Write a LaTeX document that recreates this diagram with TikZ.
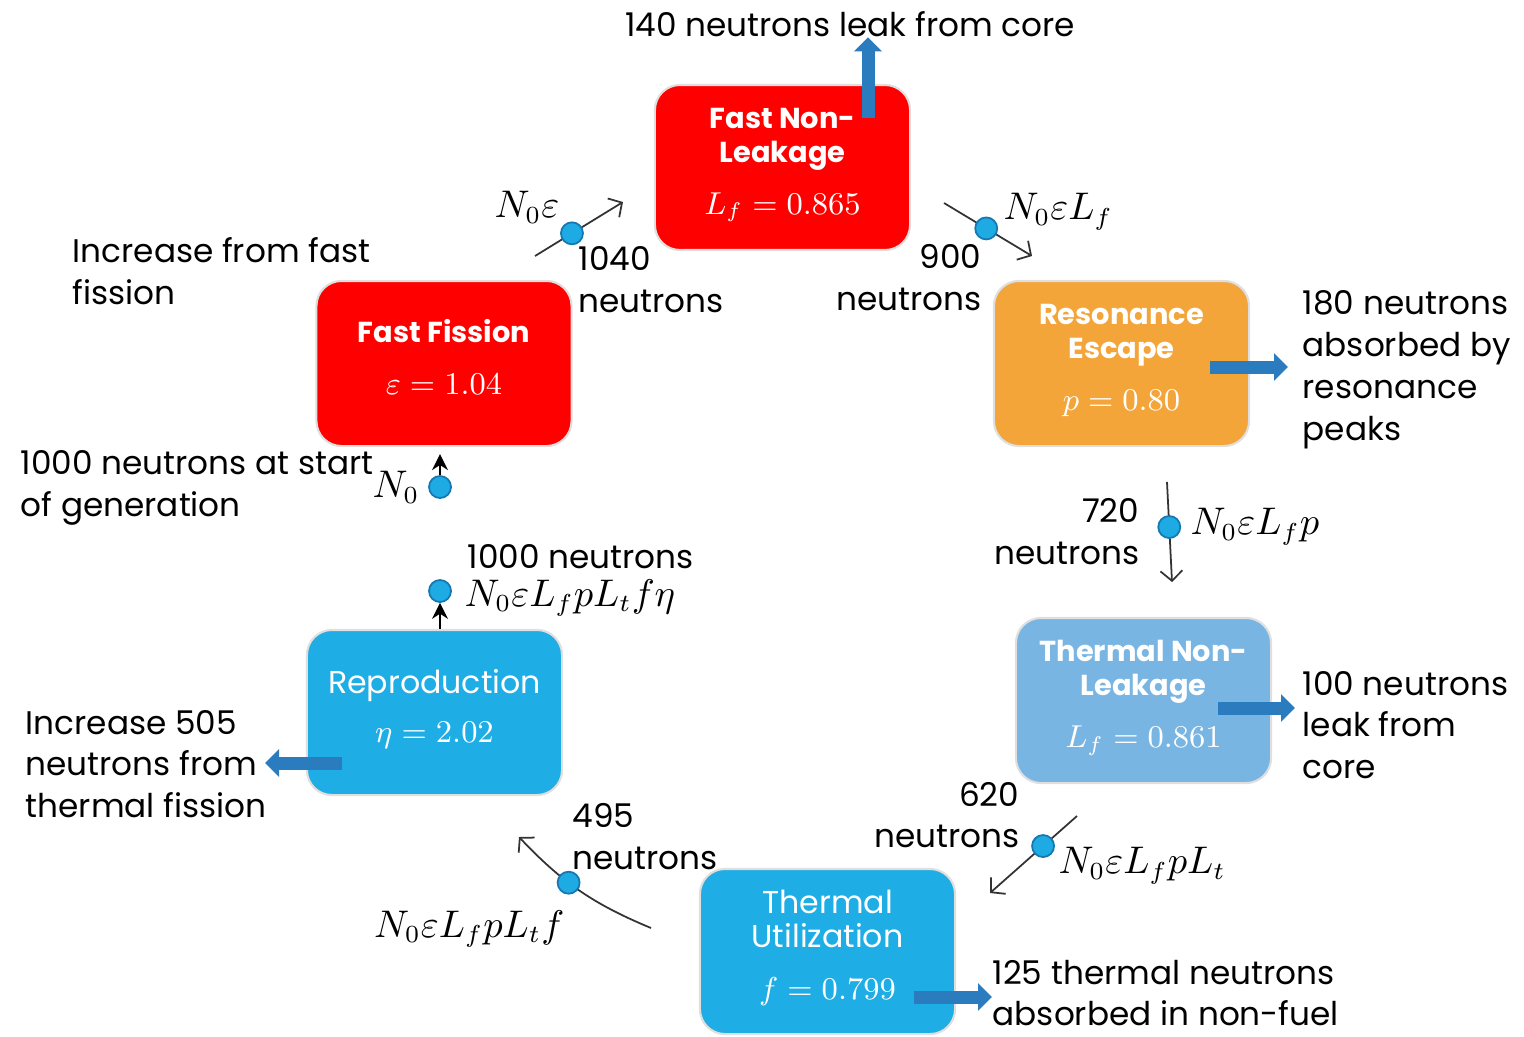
\documentclass[tikz,border=0pt]{standalone}
\usepackage{fontspec}
\usepackage{amsmath}
\setmainfont{Poppins}
\usetikzlibrary{
    arrows.meta,
    calc,
    positioning,
}
\definecolor{fastRed}{RGB}{255,0,0}
\definecolor{resOrange}{RGB}{244,165,58}
\definecolor{thermLight}{RGB}{121,181,226}
\definecolor{thermBlue}{RGB}{30,173,228}
\definecolor{dotBlue}{RGB}{30,170,226}
\definecolor{dotEdge}{RGB}{22,120,178}
\definecolor{leakBlue}{RGB}{43,124,190}
\newcommand{\val}[1]{\fontsize{9}{9}\selectfont$#1$\\[-6pt]\mbox{}}
\newcommand{\ttl}{\fontsize{8.2}{9.7}\selectfont\bfseries}

\begin{document}
\begin{tikzpicture}[x=0.01cm,y=-0.01cm,>={Straight Barb[length=1mm,width=2.2mm]},font=\fontsize{9.3}{11.9}\selectfont]

    \tikzstyle{commonBox}=[rectangle, rounded corners=0.25cm, minimum width=2.55cm, minimum height=1.65cm, draw=gray!25, line width=0.6pt, text=white, align=center, inner sep=0pt, font=\fontsize{9}{9.7}\selectfont]
    \tikzstyle{fastBox}=[commonBox, fill=fastRed]
    \tikzstyle{resBox}=[commonBox, fill=resOrange]
    \tikzstyle{leakBox}=[commonBox, fill=thermLight]
    \tikzstyle{thermBox}=[commonBox, fill=thermBlue]
    \tikzstyle{dot}=[circle, fill=dotBlue, draw=dotEdge, line width=0.5pt, minimum size=0.22cm, inner sep=0pt]
    \tikzstyle{flow}=[->, line width=0.5pt, draw=black!80]
    \tikzstyle{up}=[-{Stealth[length=1.6mm,width=1.6mm]}, line width=0.5pt]
    \tikzstyle{leak}=[line width=0.13cm, draw=leakBlue, -{Triangle[width=0.27cm,length=0.14cm]}]
    \tikzstyle{note}=[align=left, anchor=west, inner sep=0pt]
    \tikzstyle{noteR}=[align=right, anchor=east, inner sep=0pt]
    \tikzstyle{formula}=[inner sep=0pt, font=\fontsize{10.6}{13}\selectfont]

    % Page
    \useasboundingbox (0,0) rectangle (1524,1036);

    % Factor boxes
    \node at (782.5,167.5) [fastBox]  (FNL) {\ttl Fast Non-\\\ttl Leakage\\[5pt]\val{L_f = 0.865}};
    \node at (444,363.5)   [fastBox]  (FF)  {\ttl Fast Fission\\[5pt]\val{\varepsilon = 1.04}};
    \node at (1121.5,363.5) [resBox]  (RE)  {\ttl Resonance\\\ttl Escape\\[5pt]\val{p = 0.80}};
    \node at (1143.5,700.5) [leakBox] (TNL) {\ttl Thermal Non-\\\ttl Leakage\\[5pt]\val{L_f = 0.861}};
    \node at (827.5,951.5) [thermBox] (TU)  {Thermal\\Utilization\\[5pt]\val{f = 0.799}};
    \node at (434.5,712.5) [thermBox] (R)   {Reproduction\\[4pt]\val{\eta = 2.02}};

    % Losses and gains
    \node at (850,24) [inner sep=0pt] (leakFast) {140 neutrons leak from core};
    \node at (72,271)   [note] (fastInc)   {Increase from fast\\fission};
    \node at (20,488)   [note] (startNote) {1000 neutrons at start\\of generation};
    \node at (25,764)   [note] (reproInc)  {Increase 505\\neutrons from\\thermal fission};
    \node at (1302,370) [note] (resAbs)    {180 neutrons\\absorbed by\\resonance\\peaks};
    \node at (1302,725) [note] (thermLeak) {100 neutrons\\leak from\\core};
    \node at (992,993)  [note] (thermAbs)  {125 thermal neutrons\\absorbed in non-fuel};

    % Neutron counts
    \node at (578,280)  [note]  (n1040) {1040\\neutrons};
    \node at (982,278)  [noteR] (n900)  {900\\neutrons};
    \node at (1140,532) [noteR] (n720)  {720\\neutrons};
    \node at (1020,815) [noteR] (n620)  {620\\neutrons};
    \node at (572,837)  [note]  (n495)  {495\\neutrons};
    \node at (467,557)  [note]  (n1000) {1000 neutrons};

    % Free ends of the flows
    \coordinate (aIn)  at (535,256);
    \coordinate (aOut) at (623,202);
    \coordinate (bIn)  at (944,203);
    \coordinate (bOut) at (1032,256);
    \coordinate (cIn)  at (1167,482);
    \coordinate (cOut) at (1172,582);
    \coordinate (dIn)  at (1077,816);
    \coordinate (dOut) at (990,893);
    \coordinate (eIn)  at (651,928);
    \coordinate (eOut) at (519,837);

    % Flows
    \draw[flow] (aIn) -- node[dot, pos=0.42] (dotA) {} (aOut);
    \draw[flow] (bIn) -- node[dot, pos=0.48] (dotB) {} (bOut);
    \draw[flow] (cIn) -- node[dot, pos=0.45] (dotC) {} (cOut);
    \draw[flow] (dIn) -- node[dot, pos=0.39] (dotD) {} (dOut);
    \draw[flow] (eIn) to[bend left=12] node[dot, pos=0.59] (dotE) {} (eOut);

    \node at (440,591) [dot] (dotR) {};
    \node at (440,487) [dot] (dotS) {};
    \draw[up] (dotR |- R.north) -- (dotR);
    \draw[up, shorten >=2pt] (dotS) -- (dotS |- FF.south);

    % Formulas
    \node at (560,207)  [formula, anchor=east] (fA) {$N_0\varepsilon$};
    \node at (1003,212) [formula, anchor=west] (fB) {$N_0\varepsilon L_f$};
    \node at (1190,527) [formula, anchor=west] (fC) {$N_0\varepsilon L_f p$};
    \node at (1058,866) [formula, anchor=west] (fD) {$N_0\varepsilon L_f p L_t$};
    \node at (565,929)  [formula, anchor=east] (fE) {$N_0\varepsilon L_f p L_t f$};
    \node at (464,598)  [formula, anchor=west] (fR) {$N_0\varepsilon L_f p L_t f\eta$};
    \node at (420,487)  [formula, anchor=east] (fS) {$N_0$};

    % Leakage arrows
    \coordinate (fnlIn) at (868,118);
    \coordinate (reIn)  at (1210,367);
    \coordinate (tnlIn) at (1218,708);
    \coordinate (tuIn)  at (914,997);
    \coordinate (rIn)   at (342,763);
    \coordinate (rOut)  at (265,763);
    \draw[leak] (fnlIn) -- (fnlIn |- leakFast.south);
    \draw[leak] (reIn) -- ($(reIn -| resAbs.west)+(-14,0)$);
    \draw[leak] (tnlIn) -- ($(tnlIn -| thermLeak.west)+(-7,0)$);
    \draw[leak] (tuIn) -- (tuIn -| thermAbs.west);
    \draw[leak] (rIn) -- (rOut);

\end{tikzpicture}
\end{document}
